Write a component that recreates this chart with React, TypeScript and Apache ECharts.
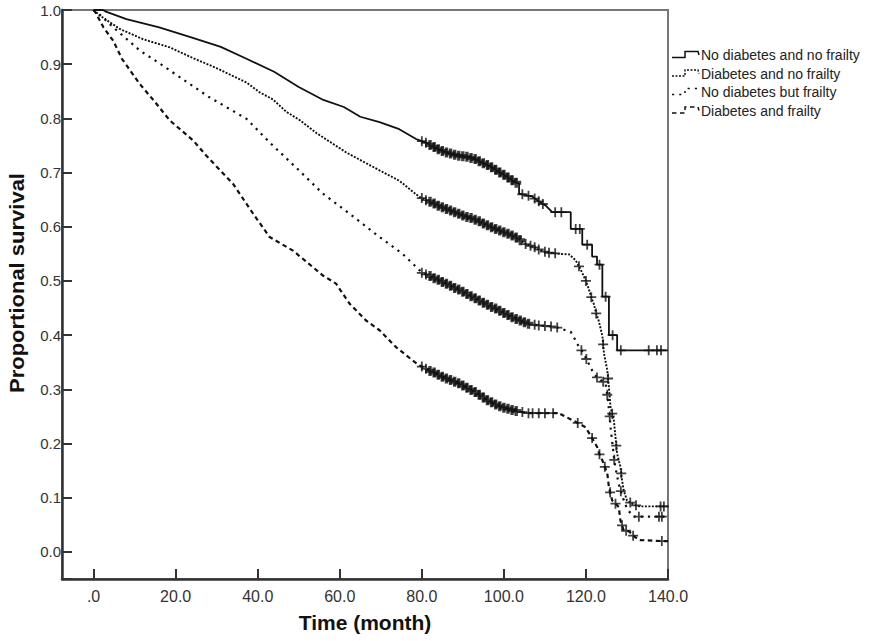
import React, { useEffect, useRef } from "react";
import * as echarts from "echarts";

// ---------- data ----------
const seriesNames = [
  "No diabetes and no frailty",
  "Diabetes and no frailty",
  "No diabetes but frailty",
  "Diabetes and frailty",
];

// Kaplan–Meier curve points [month, survival]
const curve1: number[][] = [
  [0, 1.0], [2.3, 1.0], [3, 0.997], [8, 0.983], [16, 0.968], [24, 0.949], [31, 0.932],
  [37, 0.911], [44, 0.886], [50, 0.858], [56, 0.834], [61, 0.821], [65, 0.803],
  [69.7, 0.793], [74.5, 0.78], [78.6, 0.762],
  [103.7, 0.68], [103.7, 0.661], [106.9, 0.656], [110.2, 0.639], [111.8, 0.627],
  [116.3, 0.627], [116.3, 0.596], [119.1, 0.596], [119.1, 0.567], [121.5, 0.567],
  [121.5, 0.545], [122.7, 0.545], [122.7, 0.53], [124.0, 0.53], [124.0, 0.471],
  [125.6, 0.471], [125.6, 0.4], [127.6, 0.4], [127.6, 0.372], [140, 0.372],
];
const censor1: number[][] = [
  [80, 0.758], [81, 0.755], [82, 0.751], [83, 0.747], [84, 0.743], [85, 0.74], [86, 0.737],
  [87, 0.735], [88, 0.733], [89, 0.731], [90, 0.73], [91, 0.729], [92, 0.727], [93, 0.725],
  [94, 0.721], [95, 0.717], [96, 0.714], [97, 0.71], [98, 0.705], [99, 0.7], [100, 0.696],
  [101, 0.691], [102, 0.686], [103, 0.681],
  [104.5, 0.66], [106, 0.657], [107.5, 0.652], [108.5, 0.647], [109.5, 0.642],
  [112.5, 0.627], [114, 0.627], [117.5, 0.596], [118.5, 0.596], [120.3, 0.567],
  [123.3, 0.53], [124.8, 0.471], [126.5, 0.4], [128.5, 0.372],
  [135.3, 0.372], [137.3, 0.372], [138.3, 0.372],
];

const curve2: number[][] = [
  [0, 1.0], [1.5, 0.99], [6.4, 0.965], [12.1, 0.946], [18.6, 0.931], [24.3, 0.911],
  [29.9, 0.893], [37.3, 0.866], [40.5, 0.848], [43.7, 0.835], [47, 0.812], [50.2, 0.797],
  [54.3, 0.773], [61.6, 0.737], [69.7, 0.704], [74.5, 0.685], [79.4, 0.655],
  [113.4, 0.55], [115.9, 0.549], [117.5, 0.538], [119.1, 0.515], [120.7, 0.485],
  [121.9, 0.458], [123.1, 0.427], [124.0, 0.399], [124.4, 0.366], [125.2, 0.335],
  [125.6, 0.304], [126.0, 0.267], [126.8, 0.243], [127.2, 0.212], [127.6, 0.181],
  [128.4, 0.157], [128.8, 0.132], [129.2, 0.114], [130, 0.095], [131.5, 0.088],
  [133, 0.084], [140, 0.084],
];
const censor2: number[][] = [
  [80, 0.653], [81, 0.649], [82, 0.646], [83, 0.643], [84, 0.639], [85, 0.636], [86, 0.633],
  [87, 0.63], [88, 0.627], [89, 0.624], [90, 0.621], [91, 0.618], [92, 0.616], [93, 0.613],
  [94, 0.61], [95, 0.606], [96, 0.603], [97, 0.599], [98, 0.596], [99, 0.593], [100, 0.59],
  [101, 0.587], [102, 0.584], [103, 0.58], [104, 0.575], [105.3, 0.568], [106.5, 0.565],
  [107.5, 0.562], [108.5, 0.558], [110, 0.554], [111, 0.552], [112.5, 0.551],
  [118.3, 0.527], [120, 0.5], [121.3, 0.47], [122.5, 0.44], [124.2, 0.383],
  [125.4, 0.32], [126.4, 0.255], [127.4, 0.196], [128.6, 0.145], [130.8, 0.091],
  [132.2, 0.086], [138.2, 0.084], [139, 0.084],
];

const curve3: number[][] = [
  [0, 1.0], [1, 0.995], [4.8, 0.968], [11.3, 0.925], [15.4, 0.905], [21, 0.876],
  [28, 0.84], [37.3, 0.799], [43, 0.755], [50.2, 0.703], [55.9, 0.661], [62.4, 0.624],
  [69.7, 0.581], [72.1, 0.568], [75.3, 0.55], [77.8, 0.532], [79.8, 0.517],
  [113.8, 0.412], [116.3, 0.406], [117.5, 0.39], [118.3, 0.378], [119.5, 0.366],
  [120.7, 0.347], [121.9, 0.329], [123.4, 0.318], [124.8, 0.31], [125.5, 0.27],
  [126, 0.23], [126.6, 0.19], [127.2, 0.155], [128, 0.125], [129, 0.1], [130, 0.08],
  [131.5, 0.065], [140, 0.065],
];
const censor3: number[][] = [
  [80, 0.515], [81, 0.512], [82, 0.509], [83, 0.505], [84, 0.502], [85, 0.498], [86, 0.495],
  [87, 0.491], [88, 0.487], [89, 0.484], [90, 0.48], [91, 0.476], [92, 0.472], [93, 0.468],
  [94, 0.464], [95, 0.46], [96, 0.456], [97, 0.452], [98, 0.449], [99, 0.445], [100, 0.441],
  [101, 0.437], [102, 0.433], [103, 0.43], [104, 0.427], [105, 0.424], [106, 0.421],
  [107.5, 0.419], [108.5, 0.418], [110, 0.417], [111.5, 0.416], [113, 0.414],
  [118.9, 0.372], [120.1, 0.356], [122.7, 0.322], [124.2, 0.314], [125.2, 0.29],
  [125.8, 0.25], [126.9, 0.17], [128.5, 0.112], [132.9, 0.065], [137.8, 0.065], [138.5, 0.065],
];

const curve4: number[][] = [
  [0, 1.0], [0.5, 0.995], [2.4, 0.968], [4.8, 0.943], [6.9, 0.91], [11.3, 0.863],
  [15, 0.83], [18.6, 0.796], [24.3, 0.759], [27.5, 0.731], [34, 0.679], [38.9, 0.624],
  [42.9, 0.581], [48.6, 0.556], [55.9, 0.51], [59.1, 0.495], [62.4, 0.458], [66.4, 0.427],
  [69.7, 0.409], [73.7, 0.378], [77.8, 0.353], [79.4, 0.344],
  [113.4, 0.256], [116.7, 0.243], [119.9, 0.23], [120.7, 0.22], [122.7, 0.194],
  [124, 0.169], [125.2, 0.145], [125.6, 0.12], [126.4, 0.095], [128, 0.083],
  [128.4, 0.058], [129.2, 0.04], [130.5, 0.038], [132.9, 0.022], [140, 0.02],
];
const censor4: number[][] = [
  [80, 0.342], [81, 0.338], [82, 0.334], [83, 0.331], [84, 0.327], [85, 0.323], [86, 0.32],
  [87, 0.317], [88, 0.314], [89, 0.311], [90, 0.307], [91, 0.303], [92, 0.299], [93, 0.295],
  [94, 0.29], [95, 0.285], [96, 0.28], [97, 0.276], [98, 0.272], [99, 0.269], [100, 0.266],
  [101, 0.264], [102, 0.262], [103, 0.26], [104.5, 0.258], [106, 0.256], [107, 0.256],
  [108.5, 0.256], [110, 0.256], [112, 0.256],
  [118, 0.238], [121.5, 0.21], [123.3, 0.18], [124.6, 0.157], [125.9, 0.11],
  [127.2, 0.089], [128.8, 0.049], [129.8, 0.039], [131.5, 0.03], [138.5, 0.02],
];

const curves = [curve1, curve2, curve3, curve4];
const censors = [censor1, censor2, censor3, censor4];

const xRange = [-7.7, 140];
const yRange = [-0.05, 1.0];
const xStep = 20;
const yStep = 0.1;

// ---------- styles ----------
const lineDashes: any[] = ["solid", [2, 1.5], [2.2, 5], [4.5, 3.5]];
const lineWidths = [1.8, 1.9, 2.2, 2.2];
const INK = "#111";
const FONT = '"Liberation Sans", Arial, sans-serif';
const PLUS_THIN = "path://M0,4.1L10,4.1L10,5.9L0,5.9Z M4.1,0L5.9,0L5.9,10L4.1,10Z";
const PLUS_HEAVY = "path://M0,3L10,3L10,7L0,7Z M3.3,0L6.7,0L6.7,10L3.3,10Z";

function mergeByX(a: number[][], b: number[][]) {
  return [...a, ...b].sort((p, q) => p[0] - q[0]);
}

// censor marks inside a crowded stretch are drawn heavier, where the
// reference's overlapping crosses merge into a solid band
function censorItems(c: number[][]) {
  return c.map((p) => {
    const near = c.filter((q) => q !== p && Math.abs(q[0] - p[0]) <= 3.01).length;
    return { value: p, symbol: near >= 5 ? PLUS_HEAVY : PLUS_THIN };
  });
}

export default function App() {
  const ref = useRef<HTMLDivElement>(null);

  useEffect(() => {
    if (!ref.current) return;
    const chart = echarts.init(ref.current, undefined, { renderer: "svg" });

    const lineSeries = curves.map((c, i) => ({
      name: seriesNames[i],
      type: "line",
      data: mergeByX(c, censors[i]),
      showSymbol: false,
      symbol: "none",
      silent: true,
      z: 2,
      lineStyle: { color: INK, width: lineWidths[i], type: lineDashes[i] },
    }));
    const censorSeries = censors.map((c, i) => ({
      name: seriesNames[i] + " censored",
      type: "scatter",
      data: censorItems(c),
      symbolSize: [10, 10],
      silent: true,
      z: 3,
      itemStyle: { color: INK },
    }));

    const legendRows = [55, 73.5, 92, 110.5];
    const legendGraphics: any[] = [];
    legendRows.forEach((y, i) => {
      legendGraphics.push({
        type: "polyline",
        shape: {
          points: [
            [672, y + 2.5],
            [685, y + 2.5],
            [685, y - 3.5],
            [698, y - 3.5],
            [699, y],
          ],
        },
        style: {
          stroke: INK,
          lineWidth: 1.5,
          fill: null,
          lineDash: lineDashes[i] === "solid" ? null : lineDashes[i],
        },
      });
      legendGraphics.push({
        type: "text",
        x: 701,
        y,
        style: {
          text: seriesNames[i],
          font: `14px ${FONT}`,
          fill: "#222",
          verticalAlign: "middle",
          align: "left",
        },
      });
    });

    chart.setOption({
      animation: false,
      grid: {
        left: 62,
        right: 218,
        top: 10,
        bottom: 62,
        show: true,
        borderColor: "#777",
        borderWidth: 2,
        backgroundColor: "transparent",
      },
      xAxis: {
        type: "value",
        min: xRange[0],
        max: xRange[1],
        minInterval: xStep,
        maxInterval: xStep,
        splitNumber: 7,
        splitLine: { show: false },
        axisLine: { show: true, onZero: false, lineStyle: { color: "#333", width: 2.5 } },
        axisTick: { show: true, inside: true, length: 10, lineStyle: { color: "#333", width: 2 } },
        axisLabel: {
          margin: 9,
          fontFamily: FONT,
          fontSize: 16,
          color: "#333",
          showMinLabel: false,
          formatter: (v: number) => {
            if (Math.abs(v / xStep - Math.round(v / xStep)) > 1e-6) return "";
            return v === 0 ? ".0" : v.toFixed(1);
          },
        },
      },
      yAxis: {
        type: "value",
        min: yRange[0],
        max: yRange[1],
        minInterval: yStep,
        maxInterval: yStep,
        splitNumber: 10,
        splitLine: { show: false },
        axisLine: { show: true, onZero: false, lineStyle: { color: "#333", width: 2.5 } },
        axisTick: { show: true, inside: true, length: 10, lineStyle: { color: "#333", width: 2 } },
        axisLabel: {
          margin: 1,
          fontFamily: FONT,
          fontSize: 15,
          color: "#333",
          formatter: (v: number) => {
            if (Math.abs(v / yStep - Math.round(v / yStep)) > 1e-6) return "";
            return v.toFixed(1);
          },
        },
      },
      graphic: [
        {
          type: "text",
          x: 365,
          y: 622,
          style: {
            text: "Time (month)",
            font: `bold 21px ${FONT}`,
            fill: INK,
            align: "center",
            verticalAlign: "middle",
          },
        },
        {
          type: "text",
          x: 17,
          y: 283,
          rotation: Math.PI / 2,
          scaleX: 1.1,
          style: {
            text: "Proportional survival",
            font: `bold 20px ${FONT}`,
            fill: INK,
            align: "center",
            verticalAlign: "middle",
          },
        },
        ...legendGraphics,
      ],
      series: [...lineSeries, ...censorSeries],
    });

    return () => chart.dispose();
  }, []);

  return (
    <div
      ref={ref}
      style={{ position: "fixed", left: 0, top: 0, width: "886px", height: "641px", background: "#fff" }}
    />
  );
}
